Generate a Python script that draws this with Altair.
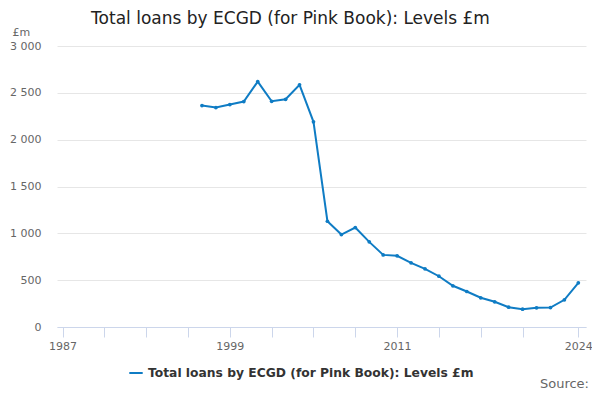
import altair as alt
import pandas as pd

years = list(range(1997, 2025))
values = [2364, 2343, 2375, 2407, 2620, 2410, 2431, 2585, 2190, 1129,
          987, 1062, 909, 770, 760, 685, 621, 542, 440, 379,
          312, 269, 211, 190, 205, 208, 290, 472]
series_name = "Total loans by ECGD (for Pink Book): Levels £m"
x_ticks = [1987, 1990, 1993, 1996, 1999, 2002, 2005, 2008, 2011, 2014, 2017, 2020, 2024]
x_labels = [1987, 1999, 2011, 2024]
y_ticks = [0, 500, 1000, 1500, 2000, 2500, 3000]

df = pd.DataFrame({"year": years, "value": values, "series": series_name})

FONT = "DejaVu Sans"
BLUE = "#0f7cc4"

label_test = " || ".join(f"datum.value == {v}" for v in x_labels)

x = alt.X("year:Q",
          scale=alt.Scale(domain=[1986.6, 2024.55], nice=False, zero=False),
          axis=alt.Axis(values=x_ticks, labelExpr=f"({label_test}) ? datum.value : ''",
                        title=None, grid=False, domainColor="#ccd6eb", tickColor="#ccd6eb",
                        tickSize=10, labelColor="#666666", labelFont=FONT, labelFontSize=11,
                        labelPadding=3, labelFlush=False, labelOverlap=False))
y = alt.Y("value:Q",
          scale=alt.Scale(domain=[0, 3000], nice=False),
          axis=alt.Axis(values=y_ticks,
                        labelExpr="replace(format(datum.value, ','), ',', ' ')",
                        title="£m", titleAngle=0, titleAlign="left", titleBaseline="middle",
                        titleX=-45, titleY=-14, titleFont=FONT, titleFontSize=11,
                        titleFontWeight="normal", titleColor="#666666",
                        domain=False, ticks=False, gridColor="#e6e6e6",
                        labelColor="#666666", labelFont=FONT, labelFontSize=11,
                        labelPadding=16))
color = alt.Color("series:N", scale=alt.Scale(range=[BLUE]),
                  legend=alt.Legend(title=None, orient="none", legendX=71, legendY=319,
                                    symbolType="stroke", symbolStrokeWidth=2, symbolSize=180,
                                    labelFont=FONT, labelFontSize=12.3, labelFontWeight="bold",
                                    labelColor="#333333", labelLimit=500))

line = alt.Chart(df).mark_line(strokeWidth=2).encode(x=x, y=y, color=color)
pts = alt.Chart(df).mark_point(filled=True, size=14, opacity=1, color=BLUE).encode(x=x, y=y)

source = alt.Chart(pd.DataFrame({"t": ["Source:"]})).mark_text(
    align="right", baseline="middle", font=FONT, fontSize=13, color="#666666"
).encode(text="t:N", x=alt.value(532), y=alt.value(338))

chart = alt.layer(line, pts, source).properties(
    width=529, height=281,
    autosize=alt.AutoSizeParams(type="none"),
    padding={"left": 49, "top": 38, "right": 6, "bottom": 65},
    title=alt.TitleParams(series_name, font=FONT, fontSize=17, fontWeight="normal",
                          color="#222222", anchor="middle", dx=-31, offset=-2)
).configure_view(stroke=None)

chart.save("out.html", embed_options={"renderer": "svg", "actions": False})
